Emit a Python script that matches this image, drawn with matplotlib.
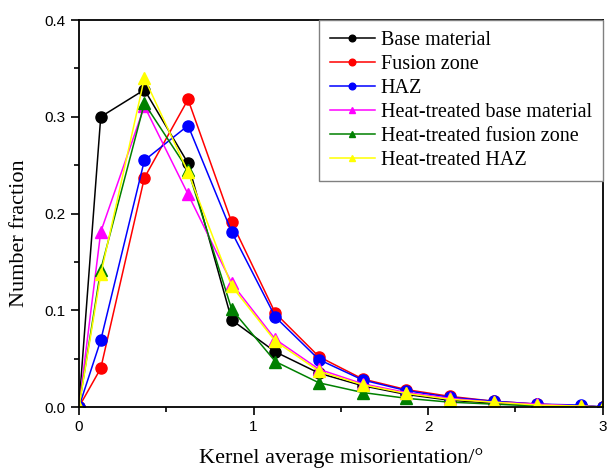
import matplotlib
matplotlib.use("Agg")
from matplotlib import pyplot as plt
from matplotlib.ticker import MultipleLocator, FormatStrFormatter

x = [0, 0.125, 0.375, 0.625, 0.875, 1.125, 1.375, 1.625, 1.875, 2.125, 2.375, 2.625, 2.875, 3.0]

base_material = [0, 0.300, 0.328, 0.252, 0.090, 0.057, 0.035, 0.022, 0.013, 0.007, 0.004, 0.002, 0.001, 0]
fusion_zone = [0, 0.040, 0.237, 0.318, 0.191, 0.097, 0.052, 0.029, 0.018, 0.011, 0.006, 0.003, 0.001, 0]
haz = [0, 0.069, 0.255, 0.291, 0.181, 0.093, 0.049, 0.028, 0.017, 0.010, 0.006, 0.003, 0.002, 0]
ht_base = [0, 0.181, 0.311, 0.220, 0.128, 0.070, 0.039, 0.024, 0.015, 0.009, 0.005, 0.003, 0.001, 0]
ht_fusion = [0, 0.142, 0.314, 0.245, 0.101, 0.047, 0.025, 0.015, 0.009, 0.005, 0.003, 0.001, 0.0, 0]
ht_haz = [0, 0.137, 0.340, 0.243, 0.125, 0.068, 0.037, 0.023, 0.014, 0.008, 0.005, 0.002, 0.001, 0]

series = [
    ("Base material", base_material, "black", "o"),
    ("Fusion zone", fusion_zone, "red", "o"),
    ("HAZ", haz, "blue", "o"),
    ("Heat-treated base material", ht_base, "magenta", "^"),
    ("Heat-treated fusion zone", ht_fusion, "green", "^"),
    ("Heat-treated HAZ", ht_haz, "yellow", "^"),
]

fig = plt.figure(figsize=(6.07, 4.73), dpi=100)
ax = fig.add_axes([0.130, 0.1395, 0.863, 0.818])

for name, vals, col, mk in series:
    ax.plot(x, vals, color=col, marker=mk, markersize=8, linewidth=1.1, label=name)

ax.set_xlim(0, 3)
ax.set_ylim(0, 0.4)
ax.xaxis.set_major_locator(MultipleLocator(1))
ax.xaxis.set_minor_locator(MultipleLocator(0.5))
ax.yaxis.set_major_locator(MultipleLocator(0.1))
ax.yaxis.set_minor_locator(MultipleLocator(0.05))
ax.yaxis.set_major_formatter(FormatStrFormatter("%.1f"))
ax.tick_params(which="both", direction="out", top=False, right=False, width=1.2)
ax.tick_params(which="major", length=6, labelsize=11)
ax.tick_params(which="minor", length=3.5)
for lab in ax.get_xticklabels() + ax.get_yticklabels():
    lab.set_fontfamily("Liberation Sans")
for sp in ax.spines.values():
    sp.set_linewidth(1.3)

ax.set_xlabel("Kernel average misorientation/°", fontsize=16, family="Liberation Serif", labelpad=10)
ax.set_ylabel("Number fraction", fontsize=16, family="Liberation Serif", labelpad=10)
ax.yaxis.set_label_coords(-0.095, 0.45)

leg = ax.legend(loc="upper right", prop={"family": "Liberation Serif", "size": 14.5},
                fancybox=False, edgecolor="gray", framealpha=1, handlelength=2.2,
                handletextpad=0.3, labelspacing=0.24, borderpad=0.55,
                borderaxespad=0, markerscale=0.6)
leg.get_frame().set_linewidth(1.0)

fig.savefig("out.png", dpi=100)
